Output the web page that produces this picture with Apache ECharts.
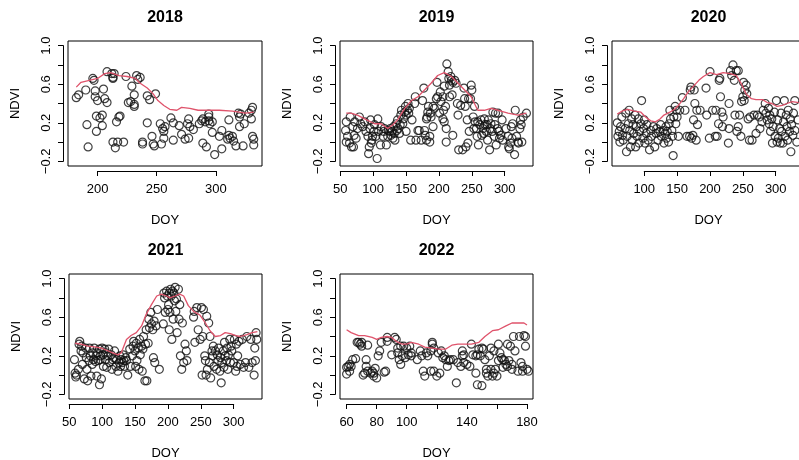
<!DOCTYPE html>
<html>
<head>
<meta charset="utf-8">
<script src="https://cdn.jsdelivr.net/npm/echarts@6.0.0/dist/echarts.min.js"></script>
<style>
  html, body { margin: 0; padding: 0; background: #fff; }
  #chart { width: 799px; height: 460px; }
</style>
</head>
<body>
<div id="chart"></div>
<script>
// panel titles
var years = ['2018', '2019', '2020', '2021', '2022'];

// observed NDVI points [DOY, NDVI]
var pts2018 = [[182,.46],[184,.49],[190,.54],[191,.18],[192,-.05],[196,.66],[197,.64],[198,.53],[198,.47],[199,.27],[199,.11],[200,.43],[202,.25],[204,.28],[204,.17],[205,.55],[206,.45],[208,.41],[208,.73],[212,.71],[213,.66],[213,.67],[214,.71],[213,0],[215,-.06],[217,0],[216,.21],[218,.26],[219,.27],[222,0],[224,.68],[226,.41],[228,.42],[229,.58],[231,.39],[231,.49],[231,.37],[233,.69],[234,.65],[236,.67],[238,0],[238,-.02],[242,.2],[242,.48],[244,.44],[246,.06],[247,-.02],[248,-.04],[249,.5],[254,-.02],[253,.19],[255,.14],[256,.11],[257,.16],[256,.04],[262,.25],[264,.2],[264,.02],[269,.17],[271,.08],[274,.03],[276,.19],[277,.24],[278,.16],[277,.04],[281,.13],[286,.19],[288,.22],[289,.24],[291,.21],[289,-.01],[292,-.05],[294,.26],[294,.29],[294,.22],[295,.19],[297,.21],[297,.1],[299,-.13],[303,.06],[305,.12],[305,-.07],[310,.03],[311,.07],[312,.04],[311,.23],[314,.06],[315,.01],[317,-.04],[319,.3],[320,.26],[321,.29],[320,.16],[323,-.04],[324,.19],[328,.3],[330,.33],[331,.36],[330,.24],[331,.06],[332,.03],[332,-.03]];
var pts2019 = [[58,.12],[59,.21],[59,0],[61,.06],[64,-.01],[65,.26],[67,-.05],[69,.16],[70,-.05],[71,.07],[72,.21],[74,.04],[76,.14],[79,.26],[81,.19],[84,.16],[87,.21],[89,.11],[92,.06],[93,-.12],[94,-.05],[95,.14],[96,.23],[97,-.01],[98,.02],[99,.06],[101,.11],[102,.18],[104,.06],[106,-.17],[107,.24],[108,.11],[111,-.03],[112,.16],[115,.06],[116,.11],[117,.14],[120,-.03],[122,.06],[123,.12],[125,.11],[126,.14],[127,.07],[129,.11],[130,.04],[131,.16],[132,.09],[133,.02],[135,.19],[136,.12],[137,.23],[138,.14],[140,.09],[141,.18],[142,.28],[143,.33],[145,.19],[146,.24],[148,.31],[149,.37],[150,.28],[150,.11],[152,.33],[153,.4],[154,.3],[155,.35],[157,.02],[159,.23],[163,.4],[164,.47],[165,.02],[168,.12],[170,.12],[173,.02],[175,.43],[177,.56],[178,.12],[179,.07],[181,.02],[181,.24],[182,.26],[183,.31],[184,.37],[186,.06],[186,0],[187,.3],[188,.26],[191,.37],[191,.16],[193,.35],[196,.45],[197,.62],[198,.47],[201,.3],[202,.52],[203,.42],[206,.47],[206,.24],[207,.33],[208,.58],[208,.21],[210,.37],[211,.14],[211,0],[212,.81],[214,.73],[215,.66],[216,.59],[216,.47],[218,.68],[219,.64],[220,.49],[221,.62],[221,.07],[224,.64],[226,.61],[228,.4],[229,.28],[230,-.08],[233,.38],[236,-.08],[238,.56],[239,.45],[240,.37],[241,-.05],[243,.23],[244,-.01],[245,.45],[246,.11],[248,.45],[249,.59],[250,.54],[252,.26],[253,.14],[254,.37],[255,.21],[257,.14],[258,.06],[259,.21],[260,-.03],[262,.18],[264,.23],[265,.07],[267,.14],[268,.09],[269,.24],[270,.18],[272,.11],[273,.18],[274,.02],[275,.23],[277,-.08],[278,.14],[279,.19],[281,.11],[282,.31],[284,.06],[285,.18],[286,.3],[287,-.03],[289,.14],[290,.3],[291,.11],[292,.04],[294,.07],[296,.23],[297,.02],[302,.14],[305,.06],[306,-.05],[307,-.07],[309,-.01],[310,.16],[311,.04],[312,.19],[315,-.13],[316,.33],[318,.06],[320,0],[321,-.01],[323,.14],[324,.23],[325,.18],[326,0],[328,.26],[333,.3]];
var pts2020 = [[59,.2],[60,.06],[62,.11],[63,0],[64,.16],[66,.26],[67,.07],[68,.02],[71,.14],[72,.3],[73,-.1],[74,.06],[76,.19],[77,.33],[78,.12],[79,-.05],[81,.24],[82,.02],[83,.18],[84,.09],[86,.28],[87,-.05],[88,.16],[89,.06],[91,.24],[92,-.01],[93,.11],[95,.19],[96,.43],[98,.04],[99,.14],[100,.23],[101,-.01],[103,.09],[104,.18],[106,.02],[108,-.08],[110,.12],[111,.06],[114,.16],[116,-.05],[118,.09],[119,.14],[121,.02],[124,.11],[125,.18],[126,.06],[129,.12],[130,-.01],[132,.09],[133,.16],[134,.04],[135,.11],[137,0],[138,.19],[139,.33],[140,.24],[142,.12],[143,.06],[144,-.14],[145,.26],[147,.37],[148,.19],[149,.33],[150,.26],[152,.06],[154,.33],[158,.46],[162,.33],[165,.06],[169,.06],[170,.54],[171,.57],[172,.04],[174,.07],[175,.23],[176,.54],[177,.4],[179,.02],[180,.33],[181,.18],[185,.33],[194,.56],[195,.28],[199,.04],[200,.73],[204,.33],[208,.06],[209,.33],[211,.06],[213,.19],[214,.64],[215,.66],[216,.47],[218,.31],[219,.16],[220,.26],[228,-.01],[229,.14],[229,.4],[231,.74],[233,.69],[235,.8],[237,.64],[238,.28],[240,.74],[241,.11],[243,.74],[243,.16],[245,.28],[247,.06],[248,.42],[250,.47],[251,.62],[252,.43],[253,.54],[255,.59],[256,.5],[258,.24],[260,.02],[261,.26],[264,.02],[267,.28],[270,.09],[272,.28],[275,.26],[276,.14],[279,.21],[281,.33],[284,.4],[285,.3],[287,.23],[289,.35],[290,.19],[291,.28],[292,.11],[294,.24],[295,-.01],[296,.16],[298,.31],[299,.06],[301,.43],[302,0],[303,.23],[304,.04],[306,.14],[307,-.01],[308,.3],[309,.11],[311,-.01],[312,.21],[313,.43],[314,.06],[316,.28],[317,.16],[318,.02],[319,.33],[321,.11],[322,.24],[323,-.1],[324,.18],[326,.07],[327,.3],[329,.12],[329,.43],[332,0],[334,.23]];
var pts2021 = [[58,.16],[59,.02],[60,-.02],[61,0],[64,.06],[65,.32],[66,.35],[68,.25],[69,.3],[70,.11],[71,.23],[73,-.04],[75,.28],[76,.18],[77,.06],[78,-.06],[80,.15],[81,.28],[82,.2],[83,-.01],[85,.11],[86,.23],[87,.16],[88,.28],[90,.14],[91,.2],[92,-.01],[93,.23],[94,.15],[96,.27],[96,-.1],[97,.16],[98,.2],[99,-.04],[100,.28],[101,.21],[102,.09],[104,.27],[105,.16],[106,.23],[107,.08],[109,.2],[110,.27],[111,.13],[114,.21],[115,.06],[116,.16],[118,.18],[119,.25],[121,.09],[122,.16],[124,.04],[126,.13],[127,.2],[128,.09],[129,.16],[131,.13],[132,.21],[133,.15],[134,.09],[136,.18],[137,.15],[139,0],[142,.27],[143,.09],[146,.2],[147,.3],[148,.35],[150,.25],[151,.09],[152,.33],[153,.15],[155,.28],[156,.06],[157,.37],[158,.21],[160,.3],[161,.04],[162,.27],[163,.4],[165,-.06],[166,.32],[167,.47],[168,-.06],[170,.33],[171,.58],[172,.49],[174,.65],[175,.53],[177,.47],[178,.18],[179,.56],[180,.13],[182,.51],[184,.68],[187,.06],[193,.53],[194,.85],[195,.8],[196,.65],[198,.87],[199,.82],[200,.68],[201,.73],[202,.47],[202,.85],[203,.65],[204,.89],[205,.82],[206,.37],[207,.87],[208,.58],[209,.85],[210,.77],[211,.91],[212,.66],[213,.79],[214,.44],[216,.89],[217,.58],[218,.73],[219,.2],[221,.06],[222,.54],[224,.13],[226,.32],[228,.25],[229,.15],[239,.6],[240,.66],[241,.34],[244,.7],[246,.47],[249,.37],[251,.7],[252,0],[253,.4],[254,.68],[256,.2],[257,.15],[258,0],[259,.61],[260,.06],[262,.54],[263,.13],[264,.4],[265,-.03],[267,.25],[268,.2],[269,.3],[270,.09],[272,.25],[274,.06],[275,.21],[276,.15],[277,.28],[279,.04],[280,.18],[281,-.08],[282,.13],[284,.25],[285,.08],[286,.34],[287,.2],[289,.15],[290,.28],[291,.06],[292,.21],[294,.37],[295,.13],[296,.3],[297,.25],[300,.13],[301,.37],[303,.04],[304,.32],[305,.09],[306,.2],[308,.35],[310,.11],[313,.37],[315,.08],[318,.13],[320,.4],[323,.08],[326,.37],[328,.13],[331,0],[332,.28],[333,.15],[334,.44],[335,.37]];
var pts2022 = [[60,.01],[60,.08],[61,.09],[62,.04],[62,.11],[63,.09],[64,.16],[66,.17],[67,.34],[68,.34],[69,.32],[70,.34],[70,.3],[71,0],[72,.02],[73,.09],[73,.16],[74,.31],[74,.04],[76,.02],[77,.04],[78,-.01],[78,.02],[79,.07],[80,-.03],[81,.2],[82,.25],[83,.34],[85,.03],[86,.04],[87,.39],[87,.35],[90,.21],[92,.39],[93,.37],[94,.28],[94,.23],[95,.16],[96,.11],[96,.3],[97,.2],[98,.3],[99,.18],[100,.28],[101,.21],[102,.3],[103,.23],[103,.2],[107,.16],[109,.25],[110,.2],[111,.04],[112,-.01],[113,.23],[114,.2],[116,.04],[116,.25],[117,.32],[117,.34],[118,.28],[118,.04],[120,-.01],[121,.23],[122,.02],[123,.25],[124,.18],[125,.2],[126,.16],[127,.09],[128,.15],[129,.16],[131,.16],[133,-.08],[134,.13],[136,.09],[137,.2],[137,.25],[138,.21],[138,.13],[140,.11],[142,.09],[143,.32],[144,.21],[146,.2],[146,.02],[147,-.1],[147,.21],[148,.27],[149,.2],[150,.28],[150,-.11],[151,.27],[152,.16],[153,.02],[153,.06],[154,-.01],[155,.2],[156,.28],[156,.06],[157,-.01],[158,.02],[158,.25],[159,.06],[160,-.01],[161,.32],[161,.15],[162,.23],[163,.18],[164,.16],[164,.08],[165,.15],[166,.11],[167,.32],[167,.09],[168,.15],[169,.3],[170,.06],[170,.11],[171,.4],[172,.25],[174,.04],[175,.4],[176,.13],[177,.04],[177,.09],[178,.41],[179,.4],[179,.3],[180,.06],[181,.04]];

// smoothed curve [DOY, NDVI]
var fit2018 = [[182,.57],[186,.62],[193,.64],[200,.66],[206,.71],[211,.72],[218,.69],[225,.68],[232,.66],[236,.61],[242,.56],[247,.5],[251,.43],[256,.38],[261,.34],[267,.33],[271,.36],[278,.35],[285,.33],[292,.33],[303,.33],[314,.32],[325,.3],[332,.31]];
var fit2019 = [[59,.3],[66,.3],[76,.28],[87,.24],[102,.19],[112,.19],[122,.14],[130,.18],[137,.23],[148,.35],[158,.43],[168,.47],[178,.54],[188,.61],[198,.69],[208,.72],[219,.68],[229,.61],[239,.54],[249,.47],[259,.33],[269,.33],[279,.35],[290,.33],[305,.3],[320,.28],[333,.3]];
var fit2020 = [[59,.29],[66,.32],[75,.34],[85,.32],[95,.31],[102,.26],[110,.22],[117,.21],[124,.24],[130,.28],[139,.31],[146,.34],[152,.38],[160,.45],[167,.52],[175,.58],[183,.64],[190,.68],[200,.72],[210,.7],[220,.72],[231,.71],[240,.69],[248,.6],[255,.5],[263,.45],[270,.44],[280,.44],[287,.41],[294,.4],[302,.37],[310,.38],[317,.4],[325,.42],[335,.41]];
var fit2021 = [[59,.33],[68,.32],[78,.3],[91,.29],[99,.28],[106,.26],[116,.23],[124,.21],[129,.23],[137,.37],[144,.41],[152,.44],[160,.51],[167,.63],[175,.73],[183,.82],[190,.84],[198,.82],[203,.8],[211,.82],[218,.84],[224,.82],[231,.72],[239,.66],[249,.62],[257,.54],[264,.46],[272,.4],[280,.41],[287,.44],[295,.43],[303,.41],[310,.4],[320,.42],[328,.44],[336,.45]];
var fit2022 = [[60,.47],[63,.44],[68,.41],[72,.41],[77,.39],[80,.37],[83,.39],[87,.4],[90,.39],[93,.35],[97,.32],[100,.32],[103,.34],[108,.32],[112,.29],[117,.28],[121,.27],[126,.27],[130,.31],[134,.32],[139,.32],[143,.32],[148,.34],[152,.4],[157,.46],[161,.47],[166,.51],[170,.54],[174,.54],[178,.54],[180,.52]];

var points = [pts2018, pts2019, pts2020, pts2021, pts2022];
var fits = [fit2018, fit2019, fit2020, fit2021, fit2022];

// x data ranges and ticks [first, last, step]
var xRanges = [[175, 339], [49.5, 343], [51, 344.5], [49.7, 343], [55.6, 184]];
var xTicks = [[200, 300, 50], [50, 300, 50], [100, 300, 50], [50, 300, 50], [60, 180, 20]];
var xHiddenLabels = [[], [], [], [], [120, 160]];
var yRange = [-0.248, 1.048];
var yTickLabels = ['-0.2', '0.2', '0.6', '1.0'];

// plot boxes in pixels: left, top, width, height
var boxes = [[68, 41, 194, 125], [340, 41, 193, 125], [612, 41, 193, 125], [69, 274, 193, 125], [340, 274, 193, 125]];

var FONT = "'Liberation Sans', Arial, Helvetica, sans-serif";
var RED = '#DF536B';

var grids = [], xAxes = [], yAxes = [], series = [], titles = [];

boxes.forEach(function (b, i) {
    var xr = xRanges[i];
    var ppuX = b[2] / (xr[1] - xr[0]);
    var ppuY = b[3] / (yRange[1] - yRange[0]);

    // data grid = the box
    grids.push({left: b[0], top: b[1], width: b[2], height: b[3], show: true,
        borderColor: '#000', borderWidth: 1, backgroundColor: 'transparent',
        containLabel: false, outerBoundsMode: 'none'});
    xAxes.push({gridIndex: 2 * i, type: 'value', min: xr[0], max: xr[1],
        axisLine: {show: false, onZero: false}, axisTick: {show: false},
        axisLabel: {show: false}, splitLine: {show: false},
        name: 'DOY', nameLocation: 'middle', nameGap: 48,
        nameTextStyle: {fontSize: 13, color: '#000', fontFamily: FONT}});
    yAxes.push({gridIndex: 2 * i, type: 'value', min: yRange[0], max: yRange[1],
        axisLine: {show: false, onZero: false}, axisTick: {show: false},
        axisLabel: {show: false}, splitLine: {show: false},
        name: 'NDVI', nameLocation: 'middle', nameGap: 46,
        nameTextStyle: {fontSize: 13, color: '#000', fontFamily: FONT}});

    // axis grid spans only the tick range, like R's detached axes
    var t = xTicks[i];
    var gl = b[0] + (t[0] - xr[0]) * ppuX;
    var gw = (t[1] - t[0]) * ppuX;
    var gt = b[1] + (yRange[1] - 1.0) * ppuY;
    var gh = 1.2 * ppuY;
    grids.push({left: gl, top: gt, width: gw, height: gh,
        containLabel: false, outerBoundsMode: 'none'});
    var hidden = xHiddenLabels[i];
    xAxes.push({gridIndex: 2 * i + 1, type: 'value', min: t[0], max: t[1], interval: t[2],
        position: 'bottom', offset: (b[1] + b[3]) - (gt + gh) + 5,
        axisLine: {show: true, onZero: false, lineStyle: {color: '#000', width: 1}},
        axisTick: {show: true, length: 5, lineStyle: {color: '#000', width: 1}},
        axisLabel: {margin: 12, fontSize: 13, color: '#000', fontFamily: FONT,
            showMinLabel: true, showMaxLabel: true,
            formatter: function (v) { return hidden.indexOf(v) >= 0 ? '' : String(v); }},
        splitLine: {show: false}});
    yAxes.push({gridIndex: 2 * i + 1, type: 'value', min: -0.2, max: 1.0, interval: 0.2,
        position: 'left', offset: gl - b[0] + 5,
        axisLine: {show: true, onZero: false, lineStyle: {color: '#000', width: 1}},
        axisTick: {show: true, length: 5, lineStyle: {color: '#000', width: 1}},
        axisLabel: {margin: 10, rotate: 90, fontSize: 13, color: '#000', fontFamily: FONT,
            showMinLabel: true, showMaxLabel: true,
            formatter: function (v) {
                var s = (Math.round(v * 10) / 10).toFixed(1);
                return yTickLabels.indexOf(s) >= 0 ? s.replace('-', '\u2212') : '';
            }},
        splitLine: {show: false}});

    series.push({type: 'scatter', xAxisIndex: 2 * i, yAxisIndex: 2 * i,
        data: points[i], symbol: 'circle', symbolSize: 8, silent: true,
        itemStyle: {color: 'rgba(0,0,0,0)', borderColor: '#111', borderWidth: 1.2}});
    series.push({type: 'line', xAxisIndex: 2 * i, yAxisIndex: 2 * i, z: 5,
        data: fits[i], showSymbol: false, symbol: 'none', silent: true,
        lineStyle: {color: RED, width: 1.3}});

    titles.push({text: years[i], left: b[0] + b[2] / 2, top: b[1] - 23,
        textAlign: 'center', textVerticalAlign: 'middle', padding: 0,
        textStyle: {fontSize: 16, fontWeight: 'bold', color: '#000', fontFamily: FONT}});
});

var myChart = echarts.init(document.getElementById('chart'), null, {renderer: 'canvas'});
myChart.setOption({
    backgroundColor: '#fff',
    animation: false,
    title: titles,
    grid: grids,
    xAxis: xAxes,
    yAxis: yAxes,
    series: series
});
</script>
</body>
</html>
